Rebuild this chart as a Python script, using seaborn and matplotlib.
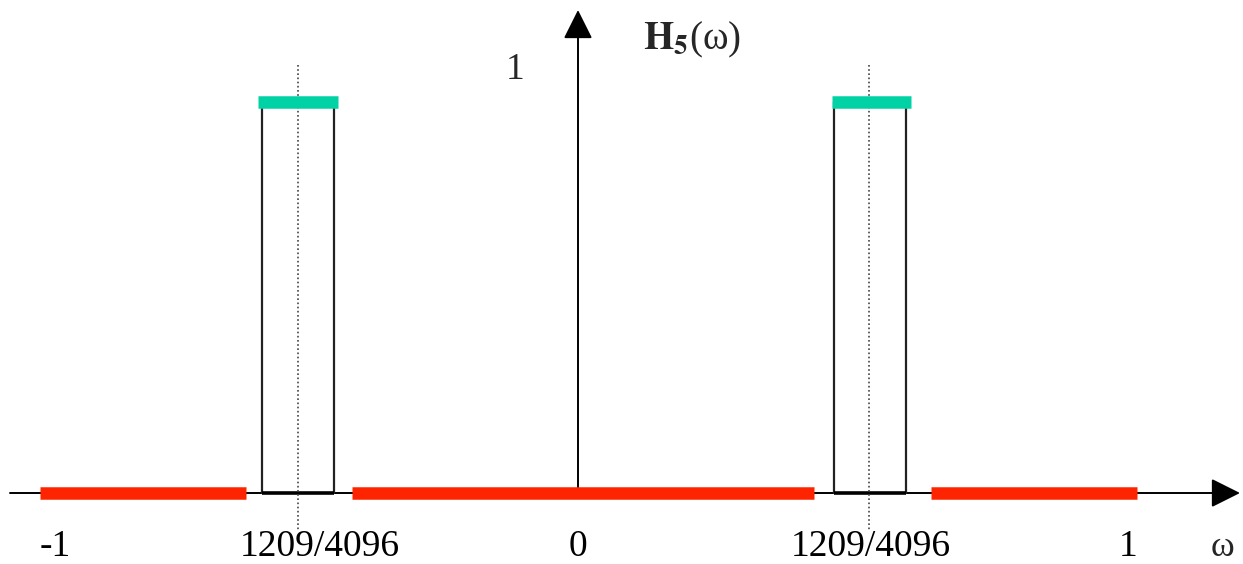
import matplotlib
matplotlib.use("Agg")
import matplotlib.pyplot as plt
import seaborn as sns
import pandas as pd

# ---- data (omega units; height 1 = passband) ----
stop_starts = [-0.978, -0.411, 0.642]
stop_ends = [-0.604, 0.429, 1.016]
band_left = [-0.5745, 0.4655]
band_right = [-0.4436, 0.5964]
band_height = [1.0, 1.0]
top_left = [-0.5818, 0.4618]
top_right = [-0.4364, 0.6055]
center_freqs = [-0.509, 0.529]
tick_pos = [-0.95, -0.469, 0.0, 0.533, 1.0]
tick_labels = ["-1", "1209/4096", "0", "1209/4096", "1"]

sns.set_theme(style="white")
plt.rcParams["font.family"] = ["Liberation Serif", "DejaVu Serif"]
plt.rcParams["mathtext.fontset"] = "stix"

fig = plt.figure(figsize=(12.43, 5.64), dpi=100)
ax = fig.add_axes([0, 0, 1, 1])
k = 550.0
ax.set_xlim(-578 / k, (1243 - 578) / k)
u = 391.0
ax.set_ylim(-(564 - 493) / u, 493 / u)
ax.axis("off")

# x axis with arrow
ax.annotate("", xy=(1240 / k - 578 / k, 0), xytext=(10 / k - 578 / k, 0),
            arrowprops=dict(arrowstyle="-|>,head_length=1.5,head_width=0.75",
                            color="black", lw=1.4, shrinkA=0, shrinkB=0), zorder=1)
# y axis with arrow
ax.annotate("", xy=(0, (493 - 10) / u), xytext=(0, 0),
            arrowprops=dict(arrowstyle="-|>,head_length=1.5,head_width=0.75",
                            color="black", lw=1.4, shrinkA=0, shrinkB=0), zorder=1)

# red stopbands via seaborn
rows = []
for i, (a, b) in enumerate(zip(stop_starts, stop_ends)):
    rows.append({"w": a, "h": 0.0, "seg": i})
    rows.append({"w": b, "h": 0.0, "seg": i})
df = pd.DataFrame(rows)
sns.lineplot(data=df, x="w", y="h", units="seg", estimator=None, color="#FF2400",
             lw=9, solid_capstyle="butt", ax=ax, zorder=3, legend=False)

# passband boxes
for l, r, h in zip(band_left, band_right, band_height):
    ax.plot([l, l, r, r], [0, h, h, 0], color="#222222", lw=1.6, zorder=2)
    ax.plot([l, r], [0, 0], color="black", lw=2.6, zorder=2, solid_capstyle="butt")
# teal tops
for l, r, h in zip(top_left, top_right, band_height):
    ax.plot([l, r], [h, h], color="#00D2A6", lw=9, solid_capstyle="butt", zorder=4)
# dotted center lines
for c in center_freqs:
    ax.plot([c, c], [(493 - 65) / u, (493 - 530) / u], color="#444444",
            lw=1.2, ls=(0, (1, 1.5)), zorder=2)

# labels
ly = (493 - 556) / u
for p, t in zip(tick_pos, tick_labels):
    ax.text(p, ly, t, ha="center", va="baseline", fontsize=27, color="black")
ax.text((1222 - 578) / k, ly, "ω", ha="center", va="baseline", fontsize=26)
ax.text((515 - 578) / k, (493 - 70) / u, "1", ha="center", va="center", fontsize=27)
ax.text((643 - 578) / k, (493 - 40) / u, r"$\mathbf{H}_{\mathbf{5}}$(ω)",
        ha="left", va="center", fontsize=28)

fig.savefig("out.png", dpi=100)
